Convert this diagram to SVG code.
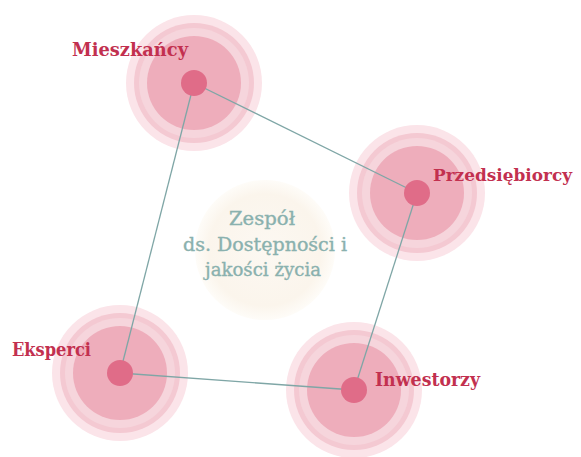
<svg xmlns="http://www.w3.org/2000/svg" width="581" height="457" viewBox="0 0 581 457">
  <style>
    .halo { fill: #fbe4e9; }
    .band { fill: #f4c9d2; }
    .gap { fill: #f6d5dc; }
    .core { fill: #eeadbb; }
    .dot { fill: #e06c88; }
    .label { font-family: "DejaVu Serif", "Liberation Serif", serif; font-weight: bold; font-size: 18px; fill: #c2304f; }
    .hub-text { font-family: "DejaVu Serif", "Liberation Serif", serif; font-size: 18px; fill: #8ab1ae; stroke: #8ab1ae; stroke-width: 0.35; text-anchor: middle; }
    .link { stroke: #7fa6a6; stroke-width: 1.3; fill: none; }
  </style>
  <defs>
    <radialGradient id="hubGlow" cx="0.5" cy="0.5" r="0.5">
      <stop offset="0" stop-color="#fcf8f2"/>
      <stop offset="0.8" stop-color="#fbf5ec"/>
      <stop offset="1" stop-color="#fefcf8"/>
    </radialGradient>
    <g id="rings">
      <circle class="halo" r="68"/>
      <circle class="band" r="60"/>
      <circle class="gap" r="55"/>
      <circle class="core" r="47"/>
    </g>
  </defs>
  <rect width="581" height="457" fill="#ffffff"/>

  <!-- central team -->
  <g id="hub">
    <circle cx="265" cy="250" r="70" fill="url(#hubGlow)"/>
    <text class="hub-text" x="262" y="225" textLength="66" lengthAdjust="spacingAndGlyphs">Zespół</text>
    <text class="hub-text" x="265" y="251" textLength="164" lengthAdjust="spacingAndGlyphs">ds. Dostępności i</text>
    <text class="hub-text" x="263" y="276" textLength="116" lengthAdjust="spacingAndGlyphs">jakości życia</text>
  </g>

  <!-- stakeholder circles -->
  <g id="mieszkancy">
    <use href="#rings" x="194" y="83"/>
  </g>
  <g id="przedsiebiorcy">
    <use href="#rings" x="417" y="193"/>
  </g>
  <g id="eksperci">
    <use href="#rings" x="120" y="373"/>
  </g>
  <g id="inwestorzy">
    <use href="#rings" x="354" y="390"/>
  </g>

  <!-- connections between stakeholders -->
  <g id="connectors">
    <line class="link" x1="194" y1="83" x2="417" y2="193"/>
    <line class="link" x1="417" y1="193" x2="354" y2="390"/>
    <line class="link" x1="354" y1="390" x2="120" y2="373"/>
    <line class="link" x1="120" y1="373" x2="194" y2="83"/>
  </g>

  <!-- dots drawn above the lines -->
  <g id="dots">
    <circle class="dot" cx="194" cy="83" r="13"/>
    <circle class="dot" cx="417" cy="193" r="13"/>
    <circle class="dot" cx="120" cy="373" r="13"/>
    <circle class="dot" cx="354" cy="390" r="13"/>
  </g>

  <!-- labels -->
  <g id="labels">
    <text class="label" x="72" y="56" textLength="116" lengthAdjust="spacingAndGlyphs">Mieszkańcy</text>
    <text class="label" x="433" y="181" style="font-size:17px" textLength="139" lengthAdjust="spacingAndGlyphs">Przedsiębiorcy</text>
    <text class="label" x="12" y="356" textLength="79" lengthAdjust="spacingAndGlyphs">Eksperci</text>
    <text class="label" x="375" y="386" textLength="105" lengthAdjust="spacingAndGlyphs">Inwestorzy</text>
  </g>
</svg>
